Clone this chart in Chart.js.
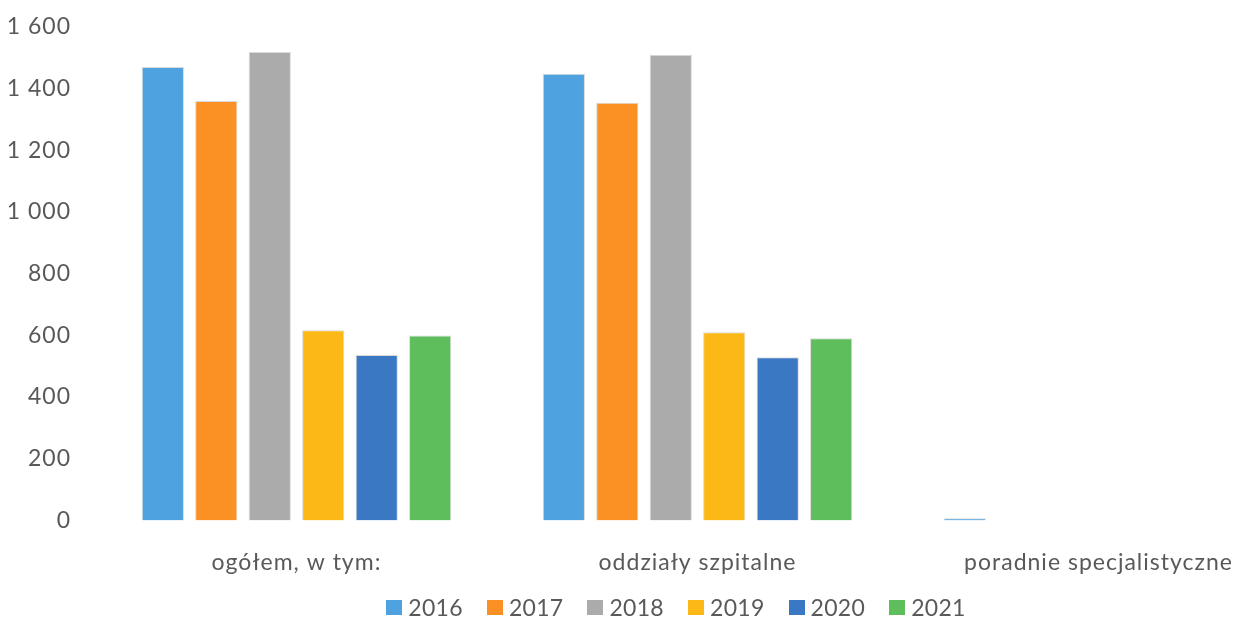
<!DOCTYPE html>
<html>
<head>
<meta charset="utf-8">
<script src="https://cdn.jsdelivr.net/npm/chart.js@4"></script>
<style>
  html, body { margin: 0; padding: 0; background: #fff; overflow: hidden; }
  #wrap { position: relative; width: 1300px; height: 620px; }
  #legend {
    position: absolute; top: 593px; left: 0; width: 1352px;
    display: flex; justify-content: center; gap: 24px;
    font-family: Lato, "Open Sans", sans-serif; font-size: 23px; color: #595959;
    letter-spacing: 0.3px;
  }
  #legend span.item { display: flex; align-items: center; }
  #legend span.box { display: inline-block; width: 16px; height: 15px; margin-right: 6px; }
</style>
</head>
<body>
<div id="wrap">
  <canvas id="chart" width="1300" height="620"></canvas>
  <div id="legend"></div>
</div>
<script>
const categories = ["ogółem, w tym:", "oddziały szpitalne", "poradnie specjalistyczne"];
const years = ["2016", "2017", "2018", "2019", "2020", "2021"];
const v2016 = [1470, 1448, 7];
const v2017 = [1360, 1354, 0];
const v2018 = [1519, 1510, 0];
const v2019 = [617, 610, 0];
const v2020 = [536, 529, 0];
const v2021 = [600, 591, 0];
const colors = ["#4ea2df", "#fb9125", "#ababab", "#fbb817", "#3b78c4", "#5ebe5c"];
const yTicks = [0, 200, 400, 600, 800, 1000, 1200, 1400, 1600];

const seriesValues = [v2016, v2017, v2018, v2019, v2020, v2021];

function fmtThousands(v) {
  return String(v).replace(/\B(?=(\d{3})+(?!\d))/g, " ");
}

const datasets = years.map((year, i) => ({
  label: year,
  data: seriesValues[i],
  backgroundColor: colors[i],
  borderColor: "rgba(0,0,0,0.15)",
  borderWidth: 1,
  categoryPercentage: 0.8,
  barPercentage: 0.79,
}));

// scanned labels look widely spaced
const spacing = {
  id: "spacing",
  beforeUpdate: (chart) => { chart.ctx.letterSpacing = "1px"; },
  beforeDraw: (chart) => { chart.ctx.letterSpacing = "1px"; },
};

const ctx = document.getElementById("chart").getContext("2d");
ctx.letterSpacing = "1px";

new Chart(ctx, {
  type: "bar",
  data: { labels: categories, datasets },
  plugins: [spacing],
  options: {
    responsive: false,
    animation: false,
    layout: { padding: { top: 27, right: 1, bottom: 24, left: 0 } },
    plugins: { legend: { display: false }, tooltip: { enabled: false } },
    scales: {
      x: {
        grid: { display: false },
        border: { display: false },
        ticks: {
          color: "#595959",
          padding: 20,
          font: { family: "Lato", size: 23 },
        },
      },
      y: {
        min: 0,
        max: 1600,
        afterBuildTicks: (axis) => {
          axis.ticks = yTicks.map((v) => ({ value: v }));
        },
        afterFit: (axis) => {
          axis.width = 96;
          axis.paddingTop = 0;
          axis.paddingBottom = 0;
        },
        grid: { display: false },
        border: { display: false },
        ticks: {
          color: "#595959",
          padding: 17,
          font: { family: "Lato", size: 23 },
          callback: (val) => fmtThousands(val),
        },
      },
    },
  },
});

const legend = document.getElementById("legend");
years.forEach((year, i) => {
  const item = document.createElement("span");
  item.className = "item";
  const box = document.createElement("span");
  box.className = "box";
  box.style.background = colors[i];
  item.appendChild(box);
  item.appendChild(document.createTextNode(year));
  legend.appendChild(item);
});
</script>
</body>
</html>
